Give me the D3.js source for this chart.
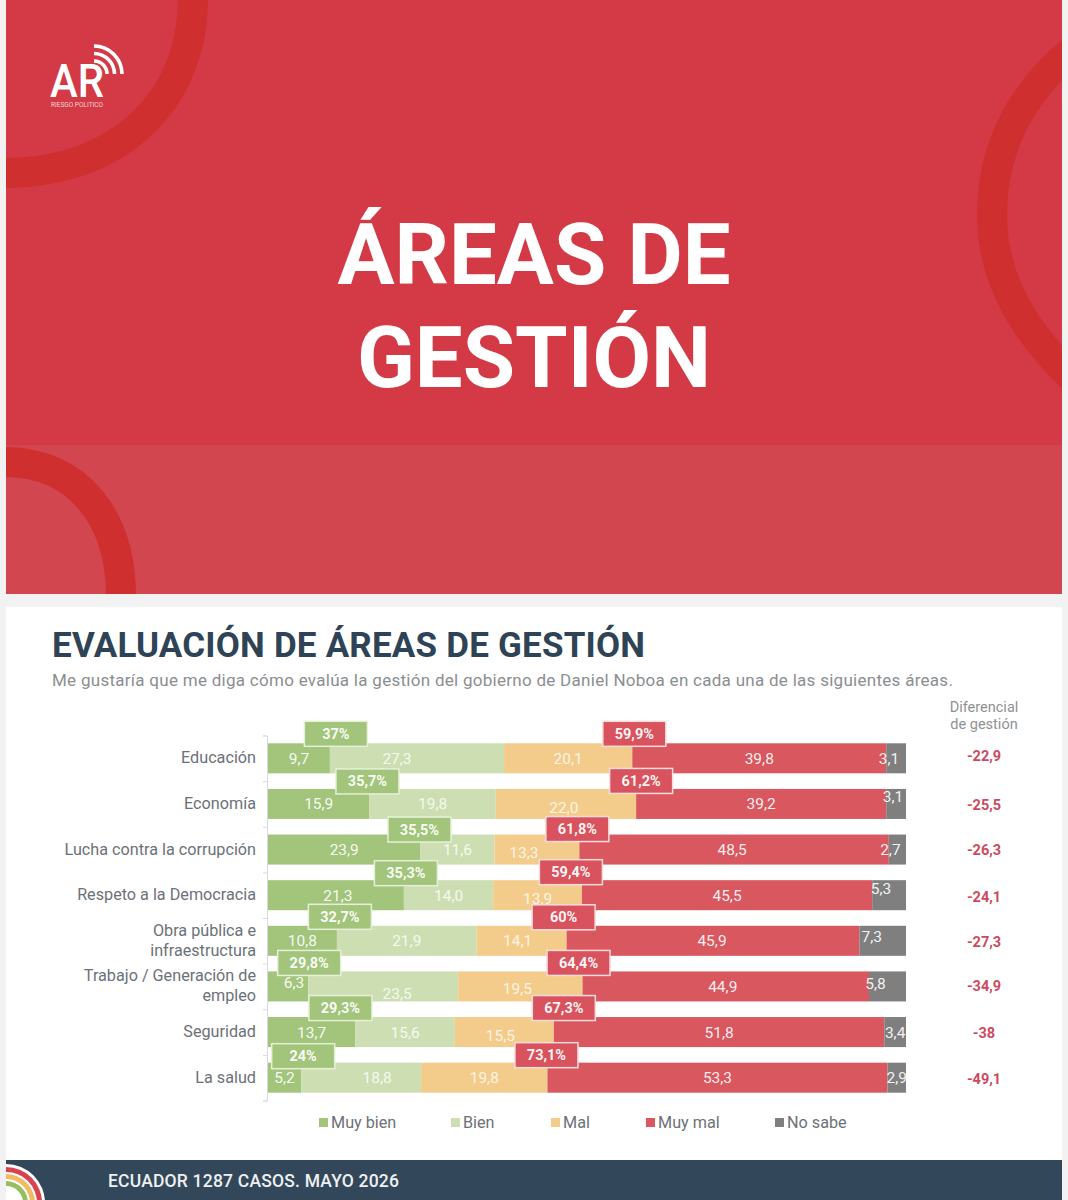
<!DOCTYPE html>
<html>
<head>
<meta charset="utf-8">
<script src="https://cdn.jsdelivr.net/npm/d3@7"></script>
<style>
  html, body { margin: 0; background: #f2f2f2; overflow: hidden; }
  svg { display: block; font-family: Roboto, sans-serif; }
</style>
</head>
<body>
<script>
const width = 1068;
const height = 1200;

const categories = [
  'Educación', 'Economía', 'Lucha contra la corrupción', 'Respeto a la Democracia',
  'Obra pública e|infraestructura', 'Trabajo / Generación de|empleo', 'Seguridad', 'La salud'
];
const seriesNames = ['Muy bien', 'Bien', 'Mal', 'Muy mal', 'No sabe'];
const muyBien = [9.7, 15.9, 23.9, 21.3, 10.8, 6.3, 13.7, 5.2];
const bien = [27.3, 19.8, 11.6, 14.0, 21.9, 23.5, 15.6, 18.8];
const mal = [20.1, 22.0, 13.3, 13.9, 14.1, 19.5, 15.5, 19.8];
const muyMal = [39.8, 39.2, 48.5, 45.5, 45.9, 44.9, 51.8, 53.3];
const noSabe = [3.1, 3.1, 2.7, 5.3, 7.3, 5.8, 3.4, 2.9];
const positivo = [37, 35.7, 35.5, 35.3, 32.7, 29.8, 29.3, 24];
const negativo = [59.9, 61.2, 61.8, 59.4, 60, 64.4, 67.3, 73.1];
const diferencial = [-22.9, -25.5, -26.3, -24.1, -27.3, -34.9, -38, -49.1];
const values = [muyBien, bien, mal, muyMal, noSabe];

const colors = ['#a2c47b', '#cddfb2', '#f3cc8b', '#d9575f', '#7f7f7f'];
const legendX = [319, 451, 551, 646, 775];

// the source nudges its labels by hand, so they are not all centred: [dx, dy] by "row-series"
const labelNudge = {
  '0-1': [-20, 0], '0-4': [-7, 0],
  '1-2': [-2, 4], '1-4': [-3, -7],
  '2-2': [-13, 3], '2-3': [-2, 0], '2-4': [-7, 0],
  '3-0': [2, 0], '3-2': [0, 3], '3-4': [-8, -7],
  '4-2': [-4, 0], '4-3': [-1, 0], '4-4': [-11, -4],
  '5-0': [6, -4], '5-1': [14, 7], '5-2': [-3, 2], '5-3': [-3, 0], '5-4': [-12, -3],
  '6-2': [-4, 3], '7-1': [16, 0]
};
const posNudge = [6, -2, -1, 2, 3, 1, -15, 2];
const negNudge = [2, 5, -2, -11, -3, -4, 10, -1];
const posLift = [9.5, 7.5, 5, 7, 9, 8.5, 9, 6.5];
const negLift = [9.5, 8, 5.5, 8, 8.5, 8.5, 9, 7.5];
const diffNudge = [-2, 1, 0, 2, 1.5, 0, 0.5, 1.5];

const comma = v => String(v).replace('.', ',');

const svg = d3.select('body')
  .append('svg')
  .attr('width', width)
  .attr('height', height);

// top red slide
svg.append('clipPath').attr('id', 'slide')
  .append('rect').attr('x', 6).attr('y', 0).attr('width', 1056).attr('height', 594);

const slide = svg.append('g').attr('clip-path', 'url(#slide)');
slide.append('rect').attr('x', 6).attr('y', 0).attr('width', 1056).attr('height', 445).attr('fill', '#d33a45');
slide.append('rect').attr('x', 6).attr('y', 445).attr('width', 1056).attr('height', 149).attr('fill', '#d24650');

const arcs = [
  'M193,-2 C193,100 120,173 4,173',
  'M1080,45 C1020,90 992,150 992,215 C992,280 1025,335 1080,385',
  'M4,462 C80,462 121,520 121,596'
];
slide.selectAll('path.arc')
  .data(arcs)
  .enter()
  .append('path')
  .attr('class', 'arc')
  .attr('d', d => d)
  .attr('fill', 'none')
  .attr('stroke', '#cf2f2f')
  .attr('stroke-width', 30);

// logo
const wifi = d3.arc().startAngle(0).endAngle(Math.PI / 2);
svg.selectAll('path.wifi')
  .data([28, 20.5, 13])
  .enter()
  .append('path')
  .attr('class', 'wifi')
  .attr('transform', 'translate(94,74)')
  .attr('d', d => wifi({ innerRadius: d - 1.8, outerRadius: d + 1.8 }))
  .attr('fill', '#fff');
svg.append('text').attr('x', 50).attr('y', 97).text('AR')
  .attr('font-size', 47).attr('font-weight', 500).attr('fill', '#fff')
  .attr('textLength', 54).attr('lengthAdjust', 'spacingAndGlyphs');
svg.append('text').attr('x', 51).attr('y', 107).text('RIESGO POLITICO')
  .attr('font-size', 6.5).attr('fill', '#f3d5d5')
  .attr('textLength', 52).attr('lengthAdjust', 'spacingAndGlyphs');

svg.selectAll('text.big')
  .data(['ÁREAS DE', 'GESTIÓN'])
  .enter()
  .append('text')
  .attr('class', 'big')
  .attr('x', 534)
  .attr('y', (d, i) => 284 + i * 103)
  .attr('text-anchor', 'middle')
  .attr('font-size', 85)
  .attr('font-weight', 700)
  .attr('fill', '#fff')
  .text(d => d);

// white card
svg.append('rect').attr('x', 6).attr('y', 607).attr('width', 1056).attr('height', 553).attr('fill', '#fff');

svg.append('text').attr('x', 52).attr('y', 657).text('EVALUACIÓN DE ÁREAS DE GESTIÓN')
  .attr('font-size', 35).attr('font-weight', 700).attr('letter-spacing', 0.2).attr('fill', '#2f4356');
svg.append('text').attr('x', 52).attr('y', 686)
  .text('Me gustaría que me diga cómo evalúa la gestión del gobierno de Daniel Noboa en cada una de las siguientes áreas.')
  .attr('font-size', 17).attr('letter-spacing', 0.28).attr('fill', '#8b8e91');

// scales
const x = d3.scaleLinear().domain([0, 100]).range([268, 906]);
const y = d3.scaleBand().domain(d3.range(categories.length)).range([735.5, 1100.5])
  .paddingInner(0.342).paddingOuter(0.171);
const ticksY = d3.scaleLinear().domain([0, categories.length]).range([735.5, 1100.5]);

const axis = svg.append('g')
  .attr('transform', 'translate(267,0)')
  .call(d3.axisLeft(ticksY).tickValues(d3.range(categories.length + 1)).tickSize(4).tickFormat(''));
axis.selectAll('path, line').attr('stroke', '#d9d9e2');

// category labels
const catLabels = svg.selectAll('text.cat')
  .data(categories)
  .enter()
  .append('text')
  .attr('class', 'cat')
  .attr('text-anchor', 'end')
  .attr('font-size', 16.2)
  .attr('fill', '#6c7178');
catLabels.each(function (d, i) {
  const lines = d.split('|');
  const mid = y(i) + y.bandwidth() / 2;
  d3.select(this).selectAll('tspan')
    .data(lines)
    .enter()
    .append('tspan')
    .attr('x', 256)
    .attr('y', (l, j) => mid + 5 + (j - (lines.length - 1) / 2) * 20)
    .text(l => l);
});

// stacked bars
const rows = categories.map((c, i) => values.map(s => s[i]));
const seg = svg.selectAll('g.row')
  .data(rows)
  .enter()
  .append('g')
  .attr('class', 'row');
seg.each(function (row, i) {
  const g = d3.select(this);
  const starts = d3.cumsum([0].concat(row));
  g.selectAll('rect')
    .data(row)
    .enter()
    .append('rect')
    .attr('x', (d, j) => x(starts[j]))
    .attr('y', y(i))
    .attr('width', (d, j) => Math.min(x(starts[j] + d), 906) - x(starts[j]))
    .attr('height', y.bandwidth())
    .attr('fill', (d, j) => colors[j]);
  g.selectAll('text')
    .data(row)
    .enter()
    .append('text')
    .attr('x', (d, j) => x(starts[j] + d / 2) + (labelNudge[i + '-' + j] || [0, 0])[0])
    .attr('y', (d, j) => y(i) + y.bandwidth() / 2 + 5.5 + (labelNudge[i + '-' + j] || [0, 0])[1])
    .attr('text-anchor', 'middle')
    .attr('font-size', 15.5)
    .attr('fill', '#fff')
    .attr('fill-opacity', (d, j) => (j === 1 || j === 2) ? 0.8 : 0.92)
    .text(d => d.toFixed(1).replace('.', ','));
});

// total boxes, drawn after every bar because they overlap the row above
function totals(list, nudge, lift, startOf, fill, stroke) {
  const g = svg.append('g');
  list.forEach((v, i) => {
    const cx = x(startOf(i)) + nudge[i];
    const cy = y(i) - lift[i];
    g.append('rect')
      .attr('x', cx - 31.5).attr('y', cy - 12.5)
      .attr('width', 63).attr('height', 25)
      .attr('fill', fill).attr('stroke', stroke).attr('stroke-width', 1.5);
    g.append('text')
      .attr('x', cx).attr('y', cy + 5)
      .attr('text-anchor', 'middle')
      .attr('font-size', 14.5)
      .attr('font-weight', 700)
      .attr('fill', '#fff')
      .attr('fill-opacity', 0.95)
      .text(comma(v) + '%');
  });
}
totals(positivo, posNudge, posLift, i => muyBien[i], '#a2c47b', '#e6f0d8');
totals(negativo, negNudge, negLift, i => muyBien[i] + bien[i] + mal[i], '#d9535e', '#f6dcdc');

// differential column
svg.selectAll('text.head')
  .data(['Diferencial', 'de gestión'])
  .enter()
  .append('text')
  .attr('class', 'head')
  .attr('x', 984)
  .attr('y', (d, i) => 712 + i * 16.5)
  .attr('text-anchor', 'middle')
  .attr('font-size', 14.5)
  .attr('fill', '#8f9194')
  .text(d => d);

svg.selectAll('text.diff')
  .data(diferencial)
  .enter()
  .append('text')
  .attr('class', 'diff')
  .attr('x', 984)
  .attr('y', (d, i) => y(i) + y.bandwidth() / 2 + 5 + diffNudge[i])
  .attr('text-anchor', 'middle')
  .attr('font-size', 14.5)
  .attr('font-weight', 700)
  .attr('fill', '#cb4a60')
  .text(comma);

// legend
const legend = svg.selectAll('g.legend')
  .data(seriesNames)
  .enter()
  .append('g')
  .attr('class', 'legend')
  .attr('transform', (d, i) => `translate(${legendX[i]},1118)`);
legend.append('rect').attr('width', 9).attr('height', 9).attr('fill', (d, i) => colors[i]);
legend.append('text').attr('x', 12).attr('y', 10).attr('font-size', 16.2).attr('fill', '#6c7178').text(d => d);

// footer
svg.append('rect').attr('x', 6).attr('y', 1160).attr('width', 1056).attr('height', 40).attr('fill', '#33475a');
svg.append('text').attr('x', 108).attr('y', 1187).text('ECUADOR 1287 CASOS. MAYO 2026')
  .attr('font-size', 17.5).attr('font-weight', 500).attr('letter-spacing', 0.2).attr('fill', '#eef0f2');

svg.append('clipPath').attr('id', 'corner')
  .append('rect').attr('x', 6).attr('y', 1160).attr('width', 60).attr('height', 40);
svg.append('g').attr('clip-path', 'url(#corner)')
  .selectAll('circle')
  .data([[39, '#ffffff'], [36, '#d9434f'], [31, '#ffffff'], [29, '#f0bb62'], [24, '#ffffff'], [22, '#97bf62'], [17, '#ffffff']])
  .enter()
  .append('circle')
  .attr('cx', 6)
  .attr('cy', 1203)
  .attr('r', d => d[0])
  .attr('fill', d => d[1]);
</script>
</body>
</html>
